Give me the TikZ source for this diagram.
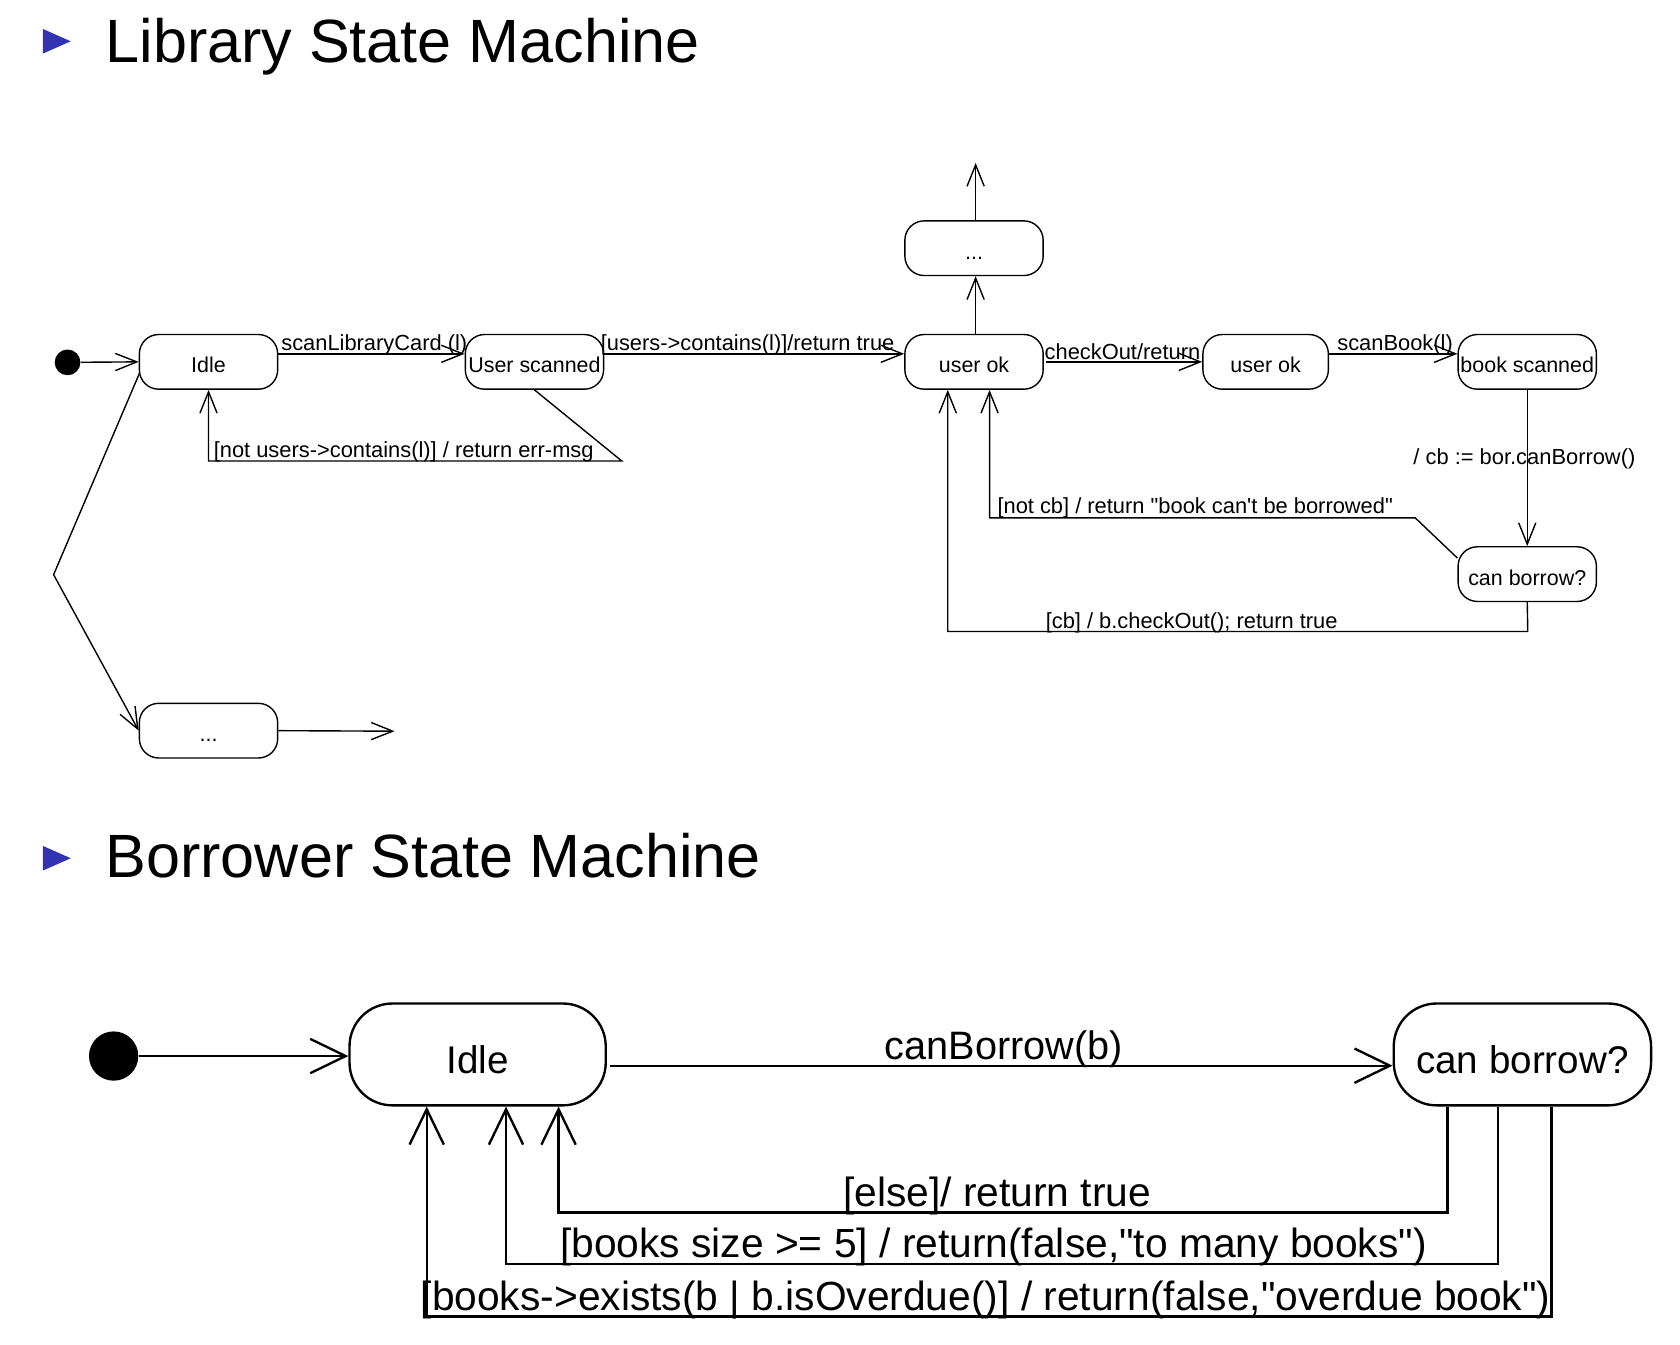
\documentclass[tikz,border=0pt]{standalone}
\usepackage{fontspec}
\setmainfont{Liberation Sans}[Ligatures=TeXOff]
\usetikzlibrary{arrows.meta,calc}
\definecolor{beamerblue}{rgb}{0.2,0.2,0.7}
\begin{document}
\begin{tikzpicture}[x=0.5pt,y=-0.5pt,
  st/.style={draw, rounded corners=9pt, line width=0.65pt, minimum width=64.5pt,
    minimum height=25.5pt, inner sep=0pt, text height=10.2pt, text depth=0pt,
    font=\fontsize{10}{12}\selectfont},
  stB/.style={draw, rounded corners=20pt, line width=1.1pt, minimum width=119.5pt,
    minimum height=47.5pt, inner sep=0pt, text height=18pt, text depth=0pt,
    font=\fontsize{18}{22}\selectfont},
  tr/.style={line width=0.65pt, -{Straight Barb[length=10pt,width=8pt,line width=0.65pt]}},
  trB/.style={line width=1.1pt, -{Straight Barb[length=16.5pt,width=16pt,line width=1.1pt]}},
  lab/.style={anchor=base west, inner sep=0pt, font=\fontsize{10.2}{12}\selectfont},
  labB/.style={anchor=base west, inner sep=0pt, font=\fontsize{18.5}{22}\selectfont},
  labL/.style={anchor=base west, inner sep=0pt, font=\fontsize{19}{22}\selectfont},
  ttl/.style={anchor=base west, inner sep=0pt, font=\fontsize{28.5}{34}\selectfont},
  bullet/.style={fill=beamerblue}]
\useasboundingbox (0,0) rectangle (1567,1253.6);

% titles
\fill[bullet] (40,27) -- (66,38.5) -- (40,50) -- cycle;
\node[ttl] (t1) at (98,58) {Library State Machine};
\fill[bullet] (40,789) -- (66,800.5) -- (40,812) -- cycle;
\node[ttl] (t2) at (98,818) {Borrower State Machine};

% ---------- Library state machine ----------
\node[circle, fill=black, minimum size=12pt, inner sep=0pt] (init) at (63,338) {};
\node[st] (idle) at (194.5,337.5) {Idle};
\node[st] (us) at (498.5,337.5) {User scanned};
\node[st] (uok) at (908.5,337.5) {user ok};
\node[st] (dtop) at (908.5,231.5) {...};
\node[st, minimum width=58.5pt] (uok2) at (1180.5,337.5) {user ok};
\node[st] (bs) at (1424.5,337.5) {book scanned};
\node[st] (cbt) at (1424.5,535.5) {can borrow?};
\node[st] (dbot) at (194.5,681.5) {...};

\coordinate (upend) at (910,152);
\coordinate (rightend) at (368,682);
\coordinate (bend) at (50,536);
\coordinate (c1) at (580,430);
\coordinate (c2) at (1320,483);
\coordinate (c3) at (1425,589);
\coordinate (a1) at ($(uok.south)+(14.5,0)$);
\coordinate (a2) at ($(uok.south)+(-24.5,0)$);

\draw[tr] (init) -- (idle.west);
\draw[tr] ($(idle.east)+(0,-7.5)$) -- ($(us.west)+(0,-7.5)$);
\draw[tr] ($(us.east)+(0,-7.5)$) -- ($(uok.west)+(0,-7.5)$);
\draw[tr] ($(uok.north)+(1.5,0)$) -- ($(dtop.south)+(1.5,0)$);
\draw[tr] ($(dtop.north)+(1.5,0)$) -- (upend);
\draw[tr] ($(uok.east)+(2,0)$) -- (uok2.west);
\draw[tr] ($(uok2.east)+(0,-7.5)$) -- ($(bs.west)+(0,-7.5)$);
\draw[tr] (bs.south) -- (cbt.north);
\draw[tr] ($(cbt.west)+(0,-15)$) -- (c2) -- (c2 -| a1) -- (a1);
\draw[tr] (cbt.south) -- (c3) -- (c3 -| a2) -- (a2);
\draw[tr] (us.south) -- (c1) -- (idle.south |- c1) -- (idle.south);
\draw[tr] ($(idle.west)+(1,10)$) -- (bend) -- (dbot.west);
\draw[tr] (dbot.east) -- (rightend);

\node[lab] (l1) at (262,327) {scanLibraryCard (l)};
\node[lab] (l2) at (560,327) {[users->contains(l)]/return true};
\node[lab] (l3) at (974,335) {checkOut/return};
\node[lab] (l4) at (1247,327) {scanBook(l)};
\node[lab] (l5) at (1318,433) {/ cb := bor.canBorrow()};
\node[lab] (l6) at (930,479) {[not cb] / return "book can't be borrowed"};
\node[lab] (l7) at (975,586) {[cb] / b.checkOut(); return true};
\node[lab] (l8) at (199,427) {[not users->contains(l)] / return err-msg};

% ---------- Borrower state machine ----------
\node[circle, fill=black, minimum size=23pt, inner sep=0pt] (initB) at (106,985) {};
\node[stB] (idleB) at (445.5,983.5) {Idle};
\node[stB, minimum width=120pt] (cbB) at (1420,983.5) {can borrow?};

\coordinate (y1) at (0,1131);
\coordinate (y2) at (0,1179);
\coordinate (y3) at (0,1228);
\coordinate (s1) at ($(cbB.south)+(-70,0)$);
\coordinate (s2) at ($(cbB.south)+(-23,0)$);
\coordinate (s3) at ($(cbB.south)+(27,0)$);
\coordinate (e1) at ($(idleB.south)+(75.5,0)$);
\coordinate (e2) at ($(idleB.south)+(26.5,0)$);
\coordinate (e3) at ($(idleB.south)+(-47.5,0)$);

\draw[trB] (initB) -- (idleB.west |- initB);
\draw[trB] ($(idleB.east)+(3,10.5)$) -- ($(cbB.west)+(0,10.5)$);
\draw[trB] (s1) -- (s1 |- y1) -- (e1 |- y1) -- (e1);
\draw[trB] (s2) -- (s2 |- y2) -- (e2 |- y2) -- (e2);
\draw[trB] (s3) -- (s3 |- y3) -- (e3 |- y3) -- (e3);

\node[labB] (m1) at (825,988) {canBorrow(b)};
\node[labL] (m2) at (786,1125) {[else]/ return true};
\node[labL] (m3) at (522,1173) {[books size >= 5] / return(false,"to many books")};
\node[labL] (m4) at (392,1222) {[books->exists(b | b.isOverdue()] / return(false,"overdue book")};
\end{tikzpicture}
\end{document}
